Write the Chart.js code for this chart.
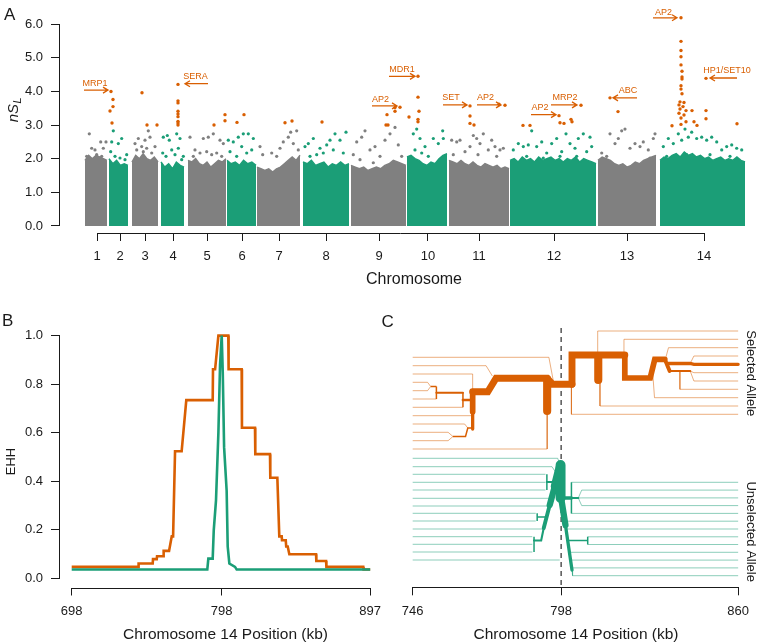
<!DOCTYPE html>
<html>
<head>
<meta charset="utf-8">
<script src="https://cdn.jsdelivr.net/npm/chart.js@4.4.1/dist/chart.umd.min.js"></script>
<style>
body{margin:0;background:#fff;}
#wrap{position:relative;width:757px;height:643px;}
canvas{position:absolute;left:0;top:0;}
</style>
</head>
<body>
<div id="wrap">
<canvas id="chartA" width="757" height="643"></canvas>
<canvas id="chartB" width="757" height="643"></canvas>
<canvas id="chartC" width="757" height="643"></canvas>
</div>
<script>
/* ---------- Panel A : nSL genome scan ---------- */
// genome position in arbitrary units along the concatenated chromosomes
const chromLabels = ["1","2","3","4","5","6","7","8","9","10","11","12","13","14"];
const chromStart = [25, 49, 72, 101, 128, 167, 197, 243, 291, 347, 389, 450, 538, 600];
const chromEnd   = [47, 68, 98, 124, 166, 196, 240, 289, 346, 387, 449, 536, 596, 685];
const chromTicks = [37, 60, 85, 113, 147, 182, 219, 266, 319, 368, 419, 494, 567, 644];
const nslTicks = [0, 1, 2, 3, 4, 5, 6];

// top of the dense cloud of SNPs, sampled evenly across each chromosome
const cloudTop = [
  [1.95,2.1,2.0,2.1,2.05,2.0,1.95],
  [2.0,1.85,1.95,1.8,1.85,1.8],
  [1.9,2.1,2.0,2.15,2.0,1.95,2.05,1.9],
  [1.9,1.75,1.85,1.7,1.9,1.8,1.75],
  [1.95,1.9,2.0,1.85,1.8,1.9,1.75,1.85,1.95,1.9,2.0],
  [1.95,1.85,1.9,1.8,1.95,1.85,1.9,1.8],
  [1.75,1.7,1.65,1.7,1.6,1.7,1.75,1.85,1.95,2.05,1.95,2.1],
  [1.9,1.85,1.95,1.8,1.85,1.9,1.75,1.85,1.8,1.9,1.8,1.85],
  [1.8,1.75,1.7,1.75,1.65,1.7,1.75,1.7,1.8,1.85,1.95,1.9,1.85,1.8],
  [2.05,2.1,2.0,1.95,1.85,1.8,1.9,1.85,2.0,2.1,2.15],
  [1.95,1.9,1.85,1.95,1.85,1.8,1.9,1.8,1.75,1.85,1.8,1.75,1.8,1.7,1.75,1.7],
  [1.95,2.0,1.9,2.05,1.95,2.0,1.9,2.05,1.95,2.0,2.05,1.95,2.0,1.9,2.0,1.95,2.05,1.9,2.0,1.95,1.9,1.85],
  [1.95,2.05,2.0,1.95,1.85,1.8,1.85,1.75,1.8,1.9,1.85,1.95,2.0,2.05,2.1],
  [1.95,2.05,2.0,2.1,2.15,2.05,2.2,2.1,2.15,2.05,2.1,2.0,2.05,1.95,2.0,2.05,1.95,2.0,1.95,2.05,1.95,1.9]
];

// single SNPs above the cloud
const grayPts = [
  [29.3,2.74],[31.7,2.31],[35,2.26],[40.7,2.5],[43.3,2.31],[46,2.5],[26.7,2.07],[36.7,2.12],[41.7,2.07],
  [75,2.45],[78.3,2.6],[81.7,2.36],[85,2.55],[88.3,2.83],[90,2.64],[76.7,2.26],[83.3,2.21],[86.7,2.31],[91.7,2.17],[95,2.36],
  [130,2.64],[135,2.26],[140,2.17],[143.3,2.6],[148.3,2.64],[151.7,2.12],[153.3,2.74],[156.7,2.17],[160,2.55],[163.3,2.45],[133.3,2.07],[146.7,2.21],[161.7,2.07],
  [200,2.36],[202.7,2.12],[211.7,2.17],[216.7,2.07],[220,2.31],[223.3,2.5],[228.3,2.64],[230.7,2.79],[233.3,2.45],[236.7,2.83],[238.3,2.26],
  [293.3,2.12],[296.7,2.5],[301.7,2.64],[305,2.83],[310,2.26],[315,2.36],[320,2.07],[325,2.55],[330,2.74],[335,2.93],[338.3,2.41],[341.7,2.07],[300,1.97],[313.3,1.88],
  [391.7,2.55],[396.7,2.5],[400,2.55],[405,2.21],[410,2.36],[413.3,2.69],[416.7,2.6],[420,2.45],[423.3,2.74],[428.3,2.26],[431.7,2.55],[435,2.36],[440,2.26],[443.3,2.31],[393.3,2.12],[418,2.12],[436.7,2.07],
  [541.7,2.17],[550,2.74],[555,2.45],[558.3,2.6],[561.7,2.83],[565,2.88],[570,2.31],[575,2.45],[580,2.36],[583.3,2.5],[588.3,2.26],[593.3,2.6],[595,2.74],[546.7,2.07],[590,2.02]
];
const greenPts = [
  [51.7,2.5],[53.3,2.83],[58.3,2.45],[61.7,2.6],[50.7,2.21],[55,2.07],[60,2.02],[65,1.97],[66.7,2.12],
  [103.3,2.64],[107.3,2.69],[109.3,2.55],[116.7,2.74],[120,2.6],[102.7,2.17],[106,2.07],[111.7,2.26],[115,2.12],[118.3,2.31],[121.7,1.97],[123.3,2.07],
  [168.3,2.55],[173.3,2.5],[178.3,2.64],[183.3,2.74],[188.3,2.74],[193.3,2.6],[170,2.21],[176.7,2.07],[181.7,2.36],[186.7,2.17],[191.7,2.26],
  [245,2.36],[248.3,2.45],[253.3,2.6],[260,2.31],[266.7,2.41],[270,2.55],[275,2.74],[280,2.55],[286,2.79],[250,2.07],[256.7,2.12],[263.3,2.17],[273.3,2.26],[283.3,2.17],
  [353.3,2.74],[356.7,2.88],[360,2.6],[365,2.36],[368.3,2.07],[373.3,2.6],[378.3,2.45],[382.7,2.83],[383.3,2.6],[355,2.26],[361.7,2.17],
  [453.3,2.26],[458.3,2.45],[463.3,2.36],[468.3,2.41],[471.7,2.83],[476.7,2.36],[481.7,2.5],[486.7,2.17],[491.7,2.45],[496.7,2.6],[501.7,2.21],[506,2.74],
  [510,2.45],[515,2.31],[518.3,2.6],[523.3,2.74],[526.7,2.21],[530,2.64],[531.7,2.36],[466.7,2.07],[483.3,2.02],[500,2.07],[516.7,2.07],
  [603.3,2.36],[608.3,2.6],[613.3,2.45],[618.3,2.74],[621.7,2.55],[625,2.88],[628.3,2.64],[631.7,2.79],[636.7,2.6],[641.7,2.64],[646.7,2.55],
  [651.7,2.64],[656.7,2.5],[661.7,2.26],[666.7,2.36],[671.7,2.41],[676.7,2.31],[681.7,2.26],[606.7,2.07],[626.7,2.12],[650,2.12],[670,2.07]
];
// outliers (top SNPs)
const hitPts = [
  [51,4.0],[53,3.76],[53,3.55],[50,3.42],[52,3.06],
  [82,3.96],[87,3.0],[97,3.0],
  [118,4.21],[118,3.72],[118,3.66],[118,3.41],[118,3.33],[118,3.25],[118,3.11],[118,3.06],[118,3.0],
  [154,3.0],
  [165,3.31],[165,3.13],[177,3.08],[184,3.31],
  [225,3.07],[232,3.12],
  [262,3.09],
  [327,3.31],[326,3.0],[328,3.0],[335,3.41],[335,3.52],[340,3.53],
  [358,4.45],[358,3.83],[359,3.41],[349,3.24],[358,3.17],[358,3.1],
  [410,3.57],[410,3.27],[410,3.05],[414,3.0],[439,3.62],[445,3.59],
  [463,2.99],[470,2.99],[499,3.28],[500,3.07],[504,3.05],[511,3.17],[512,3.1],[521,3.59],
  [550,3.81],[558,3.4],
  [621,6.19],[621,5.49],[621,5.22],[621,5.03],[621,4.79],[622,4.6],[622,4.43],[622,4.37],[621,4.17],[621,4.07],
  [622,3.93],[620,3.69],[624,3.67],[619,3.6],[623,3.55],[620,3.48],[626,3.43],[619,3.35],[624,3.3],[621,3.21],
  [626,3.1],[621,3.02],[612,2.98],[632,3.43],[634,3.1],[637,2.99],[646,4.39],[646,3.43],[646,3.19],[677,3.04]
];
// gene annotations: name, label anchor, arrow (from, to, level)
const geneNames = ["MRP1","SERA","MDR1","AP2","SET","AP2","AP2","MRP2","ABC","AP2","HP1/SET10"];
const geneLabel = [[35,4.25],[135.5,4.45],[342,4.66],[320.5,3.77],[391,3.83],[425.5,3.83],[480,3.51],[505,3.81],[568,4.03],[603.5,6.34],[667,4.63]];
const geneArrow = [[24,48,4.04],[148,125,4.23],[329,355,4.45],[312,337,3.57],[383,407,3.6],[417,441,3.6],[471,496,3.31],[491,517,3.6],[577,553,3.81],[593,617,6.19],[677,650,4.4]];

/* ---------- Panel B : EHH ---------- */
const ehhTicksX = [698, 798, 897];
const ehhTicksY = [0, 0.2, 0.4, 0.6, 0.8, 1.0];
const ehhSelected = [
  [698,0.046],[742.4,0.046],[742.6,0.06],[752,0.06],[752.2,0.078],[754.7,0.078],[754.9,0.09],[759.1,0.09],
  [759.3,0.112],[762.9,0.112],[763.6,0.135],[764.7,0.172],[765.6,0.172],[766.9,0.523],[771.3,0.523],
  [774.4,0.734],[792,0.734],[792.2,0.861],[793.6,0.861],[795.8,1.0],[802.4,1.0],[802.6,0.861],
  [811.3,0.861],[811.5,0.62],[820.2,0.62],[820.4,0.511],[830.2,0.511],[830.4,0.414],[835.1,0.414],
  [836.4,0.172],[838,0.172],[838.2,0.156],[840.7,0.156],[841,0.13],[842,0.13],[843.1,0.098],
  [860.9,0.098],[861.1,0.07],[867.6,0.07],[867.8,0.046],[892.4,0.046],[892.6,0.035],[897,0.035]
];
const ehhUnselected = [
  [698,0.035],[788.4,0.035],[789.1,0.08],[792,0.08],[792.7,0.197],[794.2,0.32],[795.8,0.6],[796.9,0.88],
  [798,1.0],[798.7,0.85],[799.6,0.54],[801.3,0.36],[802,0.13],[803.1,0.06],[806.9,0.046],[808,0.035],[897,0.035]
];

/* ---------- Panel C : haplotype bifurcation ---------- */
// [haplotypes carried, path of [kb, track]]
const hapTicksX = [746, 798, 860];
const corePos = [[798, 28], [798, 287.3]];
const selBranches = [
  [11, [[801.8,84.3],[795.0,84.3],[793.1,78.3],[775.2,78.3],[772.3,91.7],[767.0,91.7]]],
  [13, [[793.1,79],[793.1,111]]],
  [9, [[767.0,91.7],[767.0,111.7]]],
  [5, [[767.0,111.7],[767.0,129]]],
  [1, [[793.1,111],[793.1,149],[746,149]]],
  [1, [[795.4,83],[793.7,57.3],[746,57.3]]],
  [1, [[773.9,76],[771.7,65.7],[746,65.7]]],
  [1, [[767.0,91.7],[767.0,74],[746,74]]],
  [1, [[752.3,86.5],[751.2,82.3],[746,82.3]]],
  [1, [[752.3,86.5],[751.2,90.7],[746,90.7]]],
  [2, [[752.3,86.5],[754.3,86.5]]],
  [2, [[754.3,86.5],[754.3,99]]],
  [1, [[754.3,99],[746,99]]],
  [3, [[754.3,92.8],[763.6,92.8]]],
  [2, [[763.6,92.8],[763.6,107.3]]],
  [1, [[763.6,107.3],[746,107.3]]],
  [4, [[763.6,100],[767.0,100]]],
  [1, [[767.0,115.7],[746,115.7]]],
  [1, [[765.3,128],[764.2,124],[746,124]]],
  [1, [[760.1,136.5],[758.4,132.3],[746,132.3]]],
  [1, [[760.1,136.5],[758.4,140.7],[746,140.7]]],
  [2, [[760.1,136.5],[764.5,136.5],[765.3,128],[767.0,128]]],
  [11, [[801.8,84.3],[801.8,55],[820.3,55]]],
  [13, [[811.0,56],[811.0,80]]],
  [9, [[820.3,55],[820.3,78],[829.2,78],[830.8,59.3],[834.3,59.3]]],
  [6, [[834.3,59.3],[836.0,71]]],
  [5, [[835.3,63.5],[843.2,63.5],[844.5,64.3],[860,64.3]]],
  [1, [[843.2,63.5],[844.5,56],[860,56]]],
  [3, [[836.0,71],[843.2,71]]],
  [1, [[839.6,71],[839.6,89.3],[860,89.3]]],
  [1, [[843.2,71],[844.5,72.7],[860,72.7]]],
  [1, [[843.2,71],[844.5,81],[860,81]]],
  [1, [[810.8,55],[810.8,31],[860,31]]],
  [1, [[820.0,55],[820.0,39.3],[860,39.3]]],
  [1, [[834.5,59.3],[835.6,47.7],[860,47.7]]],
  [1, [[830.0,70],[830.7,97.7],[860,97.7]]],
  [1, [[811.6,80],[811.6,106],[860,106]]],
  [1, [[801.6,84.3],[801.6,114.3],[860,114.3]]]
];
const unselBranches = [
  [16, [[797.8,165],[797.8,198]]],
  [13, [[797.4,168],[795.8,186]]],
  [10, [[795.8,186],[794.0,205]]],
  [6, [[794.0,205],[791.9,228]]],
  [10, [[798.0,198],[799.5,225]]],
  [5, [[799.5,225],[801.8,270]]],
  [1, [[797.6,165],[796.8,158.3],[746,158.3]]],
  [1, [[796.0,172],[794.8,166.7],[746,166.7]]],
  [1, [[792.5,174.3],[746,174.3]]],
  [1, [[792.5,182.3],[746,182.3]]],
  [1, [[792.5,190],[746,190]]],
  [2, [[793.0,174.3],[793.0,190]]],
  [3, [[793.0,182],[795.6,182]]],
  [1, [[794.5,198.3],[746,198.3]]],
  [1, [[793.9,206],[746,206]]],
  [1, [[789.1,213.3],[746,213.3]]],
  [1, [[789.1,221],[746,221]]],
  [2, [[789.6,213.3],[789.6,221]]],
  [2, [[789.6,217],[792.4,217]]],
  [1, [[791.6,229],[746,229]]],
  [1, [[787.9,236.7],[746,236.7]]],
  [1, [[787.9,244.3],[746,244.3]]],
  [1, [[787.9,252],[746,252]]],
  [2, [[788.5,236.7],[788.5,252]]],
  [3, [[788.5,240.5],[791.0,240.5],[791.9,228]]],
  [1, [[797.5,260],[746,260]]],
  [5, [[798.0,198],[801.6,198]]],
  [2, [[801.6,182.3],[801.6,213.4]]],
  [1, [[801.6,182.3],[860,182.3]]],
  [1, [[801.6,213.4],[860,213.4]]],
  [3, [[801.6,198],[804.0,198]]],
  [1, [[804.0,198],[805.2,190.1],[860,190.1]]],
  [1, [[804.0,198],[805.2,197.9],[860,197.9]]],
  [1, [[804.0,198],[805.2,205.6],[860,205.6]]],
  [1, [[799.3,221.2],[860,221.2]]],
  [1, [[799.7,229],[860,229]]],
  [2, [[800.3,240.5],[807.3,240.5]]],
  [2, [[807.3,236.8],[807.3,244.5]]],
  [1, [[807.3,236.8],[860,236.8]]],
  [1, [[807.3,244.5],[860,244.5]]],
  [1, [[800.9,252.3],[860,252.3]]],
  [1, [[801.3,260.1],[860,260.1]]],
  [1, [[801.7,267.9],[860,267.9]]],
  [1, [[801.8,270],[802.0,275.7],[860,275.7]]]
];

/* style */
const FONT = "'Liberation Sans', Arial, Helvetica, sans-serif";
const ORANGE = "#d95f02", GREEN = "#1b9e77", GRAY = "#808080", INK = "#1a1a1a";
const ORANGE_LT = "rgba(217,95,2,0.5)", GREEN_LT = "rgba(27,158,119,0.5)";
Chart.defaults.font.family = FONT;
Chart.defaults.color = INK;

const xy = arr => arr.map(([x, y]) => ({x, y}));

/* R like axes: ticks outside, line only from first to last tick */
function axisX(min, max, ticks, fmt){
  return {
    type: "linear", min, max, bounds: "data",
    afterBuildTicks: s => { s.ticks = ticks.map(v => ({value: v})); },
    afterFit: s => { s.height = 50; },
    ticks: {autoSkip: false, maxRotation: 0, padding: 8, font: {size: 13}, color: INK, callback: fmt},
    grid: {drawOnChartArea: false, tickLength: 8, color: INK, lineWidth: 1},
    border: {display: false}
  };
}
function axisY(min, max, ticks, fmt){
  return {
    type: "linear", min, max, bounds: "data",
    afterBuildTicks: s => { s.ticks = ticks.map(v => ({value: v})); },
    afterFit: s => { s.width = 50; },
    ticks: {padding: 8, font: {size: 13}, color: INK, callback: fmt},
    grid: {drawOnChartArea: false, tickLength: 9, color: INK, lineWidth: 1},
    border: {display: false}
  };
}
const rAxis = {
  id: "rAxis",
  afterDraw(chart){
    const {ctx, chartArea: a} = chart;
    ctx.save();
    ctx.strokeStyle = INK; ctx.lineWidth = 1;
    Object.values(chart.scales).forEach(s => {
      if(!s.options.display || !s.ticks.length) return;
      const p0 = s.getPixelForValue(s.ticks[0].value);
      const p1 = s.getPixelForValue(s.ticks[s.ticks.length-1].value);
      ctx.beginPath();
      if(s.isHorizontal()){ ctx.moveTo(p0, Math.round(a.bottom)+.5); ctx.lineTo(p1, Math.round(a.bottom)+.5); }
      else { ctx.moveTo(Math.round(a.left)-.5, p0); ctx.lineTo(Math.round(a.left)-.5, p1); }
      ctx.stroke();
    });
    ctx.restore();
  }
};
function texts(id, draw){
  return {id, afterDraw(chart){ const ctx = chart.ctx; ctx.save(); ctx.fillStyle = INK; draw(ctx, chart); ctx.restore(); }};
}
function rotText(ctx, txt, x, y, ang){
  ctx.save(); ctx.translate(x, y); ctx.rotate(ang);
  ctx.textAlign = "center"; ctx.textBaseline = "alphabetic";
  ctx.fillText(txt, 0, 0); ctx.restore();
}
const base = {responsive: false, animation: false, devicePixelRatio: 1, events: [],
  plugins: {legend: {display: false}, tooltip: {enabled: false}}};

/* Panel A */
const geneNotes = {
  id: "geneNotes",
  afterDatasetsDraw(chart){
    const {ctx, scales: {x, y}} = chart;
    ctx.save();
    ctx.strokeStyle = ORANGE; ctx.fillStyle = ORANGE; ctx.lineWidth = 1.3;
    ctx.font = "9px " + FONT; ctx.textAlign = "center"; ctx.textBaseline = "middle";
    geneNames.forEach((g, i) => {
      ctx.fillText(g, x.getPixelForValue(geneLabel[i][0]), y.getPixelForValue(geneLabel[i][1]));
      const [a0, a1, ay] = geneArrow[i];
      const x0 = x.getPixelForValue(a0), x1 = x.getPixelForValue(a1), yy = y.getPixelForValue(ay);
      const d = Math.sign(x1 - x0);
      ctx.beginPath();
      ctx.moveTo(x0, yy); ctx.lineTo(x1, yy);
      ctx.moveTo(x1 - d*5, yy - 3); ctx.lineTo(x1, yy); ctx.lineTo(x1 - d*5, yy + 3);
      ctx.stroke();
    });
    ctx.restore();
  }
};
const cloudSets = cloudTop.map((h, i) => ({
  type: "line",
  data: h.map((v, k) => ({x: chromStart[i] + (chromEnd[i]-chromStart[i])*k/(h.length-1), y: v})),
  backgroundColor: i % 2 ? GREEN : GRAY, borderColor: i % 2 ? GREEN : GRAY, borderWidth: 1.5,
  fill: "origin", pointRadius: 0, tension: 0, order: 3
}));
new Chart(document.getElementById("chartA"), {
  type: "scatter",
  data: {datasets: [
    {data: xy(hitPts), backgroundColor: ORANGE, pointRadius: 1.7, borderWidth: 0, clip: false, order: 0},
    {data: xy(grayPts), backgroundColor: GRAY, pointRadius: 1.6, borderWidth: 0, order: 1},
    {data: xy(greenPts), backgroundColor: GREEN, pointRadius: 1.6, borderWidth: 0, order: 1},
    ...cloudSets
  ]},
  options: {...base,
    layout: {padding: {left: 10, right: 9, top: 7, bottom: 360}},
    scales: {
      x: axisX(0, 688, chromTicks, (v, i) => chromLabels[i]),
      y: axisY(-0.21, 6.25, nslTicks, v => v.toFixed(1))
    }
  },
  plugins: [rAxis, geneNotes, texts("txtA", ctx => {
    ctx.font = "17px " + FONT; ctx.textAlign = "left"; ctx.fillText("A", 4, 20);
    ctx.font = "16px " + FONT; ctx.textAlign = "center"; ctx.fillText("Chromosome", 414, 283.5);
    ctx.translate(17.5, 110); ctx.rotate(-Math.PI/2);
    ctx.font = "italic 15px " + FONT; const w1 = ctx.measureText("nS").width;
    ctx.font = "italic 11px " + FONT; const w2 = ctx.measureText("L").width;
    const x0 = -(w1 + w2)/2;
    ctx.textAlign = "left";
    ctx.font = "italic 15px " + FONT; ctx.fillText("nS", x0, 0);
    ctx.font = "italic 11px " + FONT; ctx.fillText("L", x0 + w1 + 0.5, 3);
  })]
});

/* Panel B */
new Chart(document.getElementById("chartB"), {
  type: "line",
  data: {datasets: [
    {data: xy(ehhUnselected), borderColor: GREEN, borderWidth: 2.6, pointRadius: 0, tension: 0, clip: false, order: 0},
    {data: xy(ehhSelected), borderColor: ORANGE, borderWidth: 2.6, pointRadius: 0, tension: 0, clip: false, order: 1}
  ]},
  options: {...base,
    layout: {padding: {left: 10, right: 385, top: 331, bottom: 5.5}},
    scales: {
      x: axisX(690.2, 898.2, ehhTicksX, v => String(v)),
      y: axisY(-0.039, 1.019, ehhTicksY, v => v.toFixed(1))
    }
  },
  plugins: [rAxis, texts("txtB", ctx => {
    ctx.font = "17px " + FONT; ctx.textAlign = "left"; ctx.fillText("B", 2, 325.5);
    ctx.font = "15.5px " + FONT; ctx.textAlign = "center"; ctx.fillText("Chromosome 14 Position (kb)", 225.5, 639);
    ctx.font = "13px " + FONT; rotText(ctx, "EHH", 15, 461.5, -Math.PI/2);
  })]
});

/* Panel C */
const branchWidth = n => n < 2 ? 1 : 0.6*n + 0.3;
function branchSets(list, color, light){
  return list.map(([n, path]) => ({
    data: xy(path), borderColor: n < 2 ? light : color, borderWidth: branchWidth(n),
    borderCapStyle: n < 3 ? "butt" : "round", borderJoinStyle: "miter",
    pointRadius: 0, tension: 0, fill: false, clip: false, order: n < 2 ? 2 : 0
  }));
}
new Chart(document.getElementById("chartC"), {
  type: "line",
  data: {datasets: [
    {data: xy(corePos), borderColor: "#555", borderWidth: 1.5, borderDash: [5, 4], pointRadius: 0, order: 1},
    ...branchSets(selBranches, ORANGE, ORANGE_LT),
    ...branchSets(unselBranches, GREEN, GREEN_LT)
  ]},
  options: {...base,
    layout: {padding: {left: 412.7, right: 16, top: 300, bottom: 5.7}},
    scales: {
      x: axisX(746, 860, hapTicksX, v => String(v)),
      y: {type: "linear", display: false, min: 0, max: 287.3, reverse: true}
    }
  },
  plugins: [rAxis, texts("txtC", ctx => {
    ctx.font = "17px " + FONT; ctx.textAlign = "left"; ctx.fillText("C", 381.5, 326.5);
    ctx.font = "15.5px " + FONT; ctx.textAlign = "center"; ctx.fillText("Chromosome 14 Position (kb)", 576, 639);
    ctx.font = "13px " + FONT;
    rotText(ctx, "Selected Allele", 746.5, 373.3, Math.PI/2);
    rotText(ctx, "Unselected Allele", 746.5, 531.7, Math.PI/2);
  })]
});
</script>
</body>
</html>
